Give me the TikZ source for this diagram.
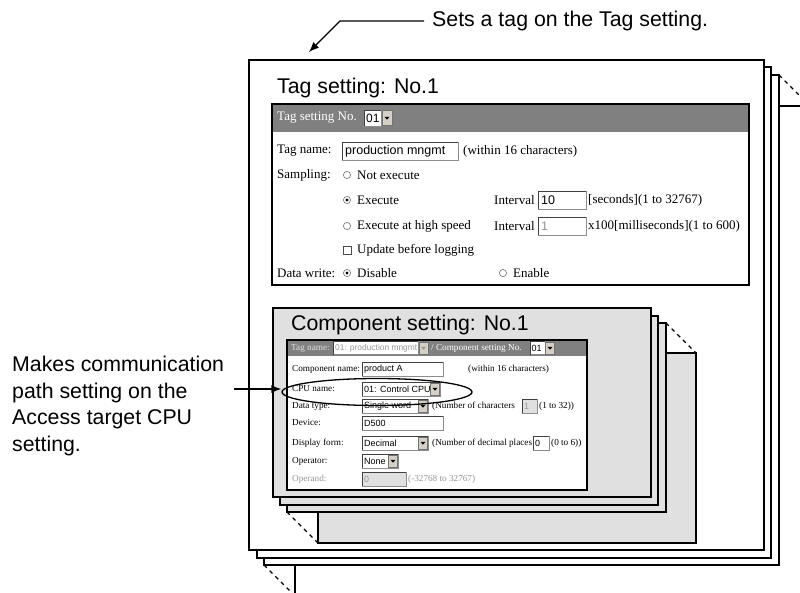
\documentclass[tikz,border=0pt]{standalone}
\usepackage{fontspec}
\setmainfont{Liberation Sans}
\newfontfamily\serf{Liberation Serif}
\newfontfamily\sanf{Liberation Sans}
\usetikzlibrary{arrows.meta,shapes.geometric}
\definecolor{cpgray}{RGB}{224,224,224}
\definecolor{hdrgray}{RGB}{128,128,128}
\definecolor{btngray}{RGB}{212,208,200}
\definecolor{distext}{RGB}{150,150,150}
\tikzset{
  opage/.style={draw=black,line width=1.1pt,fill=white},
  cpage/.style={draw=black,line width=1.1pt,fill=cpgray},
  panel/.style={draw=black,line width=1.3pt},
  big/.style={font=\sanf\fontsize{21.3}{25}\selectfont,anchor=base west,inner sep=0},
  note/.style={font=\sanf\fontsize{21.3}{26.5}\selectfont,inner sep=0},
  tt/.style={font=\serf\fontsize{13}{15}\selectfont,anchor=west,inner sep=0},
  tv/.style={font=\sanf\fontsize{12.5}{15}\selectfont,anchor=west,inner sep=0},
  ct/.style={font=\serf\fontsize{9.2}{11}\selectfont,anchor=west,inner sep=0},
  cv/.style={font=\sanf\fontsize{9}{11}\selectfont,anchor=west,inner sep=0},
  fieldbox/.style={draw=black!45,line width=0.6pt,fill=white},
  dashln/.style={dash pattern=on 4pt off 4pt,line width=1.1pt},
  arr/.style={line width=1.3pt,-{Latex[length=10pt,width=8pt]}},
}
% field: x1 y1(top) x2 y2(bottom) fill
\newcommand\myfld[5]{%
  \draw[fieldbox,fill=#5] (#1,#2) rectangle (#3,#4);
  \draw[line width=0.8pt,black!75] (#1,#4) -- (#1,#2) -- (#3,#2);}
% dropdown button: cx cy w h tricolor
\newcommand\mydd[5]{%
  \filldraw[fill=btngray,draw=black!55,line width=0.4pt] ({#1-#3/2},{#2-#4/2}) rectangle ({#1+#3/2},{#2+#4/2});
  \fill[#5] ({#1-2.6},{#2-1.2}) -- ({#1+2.6},{#2-1.2}) -- (#1,{#2+1.6}) -- cycle;}
\newcommand\myrad[2]{\draw[fill=white,draw=black!55,line width=0.6pt] (#1,#2) circle (3.6);}
\newcommand\myradon[2]{\myrad{#1}{#2}\fill (#1,#2) circle (1.6);}
\begin{document}
\begin{tikzpicture}[x=1pt,y=-1pt]
\useasboundingbox (0,0) rectangle (800,592);
\clip (0,0) rectangle (800,592);

% ---- outer stack (Tag setting pages)
\draw[opage] (295,106) rectangle (810,596);
\draw[dashln] (779,75) -- (810,106);
\draw[dashln] (264,565) -- (295,596);
\draw[opage] (264,75) rectangle (779,565);
\draw[opage] (257,67) rectangle (771,558);
\draw[opage] (249,60) rectangle (764,550);

\node[big] (tagtitle) at (277,93) {Tag setting: No.1};

% ---- Tag setting panel
\fill[white] (272,104) rectangle (749,285);
\fill[hdrgray] (272,104) rectangle (749,132);
\draw[panel] (272,104) rectangle (749,285);
\node[tt,text=white] (tsno) at (277,118) {Tag setting No.};
\myfld{364}{110}{381}{126}{white}
\node[font=\sanf\fontsize{12}{14}\selectfont,anchor=west,inner sep=0] (tsnov) at (366,118) {01};
\mydd{387}{118}{10}{15}{black}

\node[tt] (tagname) at (277,151) {Tag name:};
\myfld{342}{142}{458}{160}{white}
\node[tv] (tagnamev) at (345,151) {production mngmt};
\node[tt] (tagnamen) at (463,151) {(within 16 characters)};

\node[tt] (samp) at (277,175) {Sampling:};
\myrad{347}{175}
\node[tt] (notexe) at (357,175) {Not execute};
\myradon{347}{200}
\node[tt] (exe) at (357,200) {Execute};
\node[tt] (int1) at (494,200) {Interval};
\myfld{538}{191}{586}{209}{white}
\node[tv] (int1v) at (541,200) {10};
\node[tt] (int1u) at (588,200) {[seconds](1 to 32767)};
\myrad{347}{226}
\node[tt] (exehs) at (357,226) {Execute at high speed};
\node[tt] (int2) at (494,226) {Interval};
\myfld{538}{217}{586}{235}{white}
\node[tv,text=distext] (int2v) at (541,226) {1};
\node[tt] (int2u) at (588,226) {x100[milliseconds](1 to 600)};
\draw[fill=white,draw=black!70,line width=0.7pt] (343,246) rectangle (351,254);
\node[tt] (upd) at (357,250) {Update before logging};
\node[tt] (dw) at (277,273) {Data write:};
\myradon{347}{273}
\node[tt] (dis) at (357,273) {Disable};
\myrad{503}{273}
\node[tt] (ena) at (513,273) {Enable};

% ---- component stack
\draw[cpage] (318,353) rectangle (696,543);
\draw[dashln] (666,323) -- (696,353);
\draw[dashln] (287,512) -- (318,543);
\draw[cpage] (287,323) rectangle (666,512);
\draw[cpage] (280,316) rectangle (658,505);
\draw[cpage] (273,308) rectangle (651,497);
\node[big] (comptitle) at (291,330) {Component setting: No.1};

% ---- component panel
\fill[white] (287,340) rectangle (587,490);
\fill[hdrgray] (287,340) rectangle (587,356);
\draw[panel] (287,340) rectangle (587,490);
\node[ct,text=cpgray] (ctn) at (291,348) {Tag name:};
\myfld{333}{341.5}{418}{354.5}{white}
\node[font=\sanf\fontsize{8.4}{10}\selectfont,anchor=west,inner sep=0,text=distext] (ctnv) at (335,348) {01: production mngmt};
\mydd{423.5}{348}{9}{12}{distext}
\node[ct,text=white] (csno) at (431,348) {/ Component setting No.};
\myfld{530}{341.5}{545}{354.5}{white}
\node[cv] (csnov) at (531.5,348) {01};
\mydd{550}{348}{9}{12}{black}

\node[ct] (cname) at (292,369) {Component name:};
\myfld{362}{362}{443}{376}{white}
\node[cv] (cnamev) at (364,369) {product A};
\node[ct] (cnamen) at (468,369) {(within 16 characters)};

\node[ct] (cpu) at (292,389) {CPU name:};
\myfld{362}{382}{440}{396}{white}
\node[cv] (cpuv) at (364,389) {01: Control CPU};
\mydd{435}{389}{9}{12}{black}

\node[ct] (dt) at (292,406) {Data type:};
\myfld{362}{399}{428}{413}{white}
\node[cv] (dtv) at (364,406) {Single word};
\mydd{423}{406}{9}{12}{black}
\node[ct] (dtn) at (432,406) {(Number of characters};
\myfld{522}{399}{537}{413}{cpgray}
\node[cv,text=distext] (dtnv) at (524,406) {1};
\node[ct] (dtr) at (539,406) {(1 to 32))};

\node[ct] (dev) at (292,423) {Device:};
\myfld{362}{416}{443}{430}{white}
\node[cv] (devv) at (364,423) {D500};

\node[ct] (df) at (292,443) {Display form:};
\myfld{362}{436}{428}{450}{white}
\node[cv] (dfv) at (364,443) {Decimal};
\mydd{423}{443}{9}{12}{black}
\node[ct] (dfn) at (432,443) {(Number of decimal places};
\myfld{533}{436}{549}{450}{white}
\node[cv] (dfnv) at (535,443) {0};
\node[ct] (dfr) at (551,443) {(0 to 6))};

\node[ct] (op) at (292,461) {Operator:};
\myfld{362}{454}{398}{468}{white}
\node[cv] (opv) at (364,461) {None};
\mydd{393}{461}{9}{12}{black}

\node[ct,text=distext] (opd) at (292,479) {Operand:};
\myfld{362}{472}{406}{486}{cpgray}
\node[cv,text=distext] (opdv) at (364,479) {0};
\node[ct,text=distext] (opdr) at (408,479) {(-32768 to 32767)};

% ---- annotations
\node[draw=black,line width=1.3pt,ellipse,minimum width=190pt,minimum height=27pt,inner sep=0] (cpuell) at (377,392) {};

\node[note,anchor=west] (toplbl) at (432,21) {Sets a tag on the Tag setting.};
\coordinate (tbend) at (340,21);
\coordinate (ttip) at (309,52);
\draw[line width=1.1pt,-{Latex[length=10pt,width=8pt]}] ([xshift=-8pt]toplbl.west) -- (tbend) -- (ttip);

\node[note,anchor=north west,align=left] (leftlbl) at (12,356) {Makes communication\\path setting on the\\Access target CPU\\setting.};
\coordinate (lstart) at (234,389);
\draw[arr] (lstart) -- (lstart -| cpuell.west);
\end{tikzpicture}
\end{document}
